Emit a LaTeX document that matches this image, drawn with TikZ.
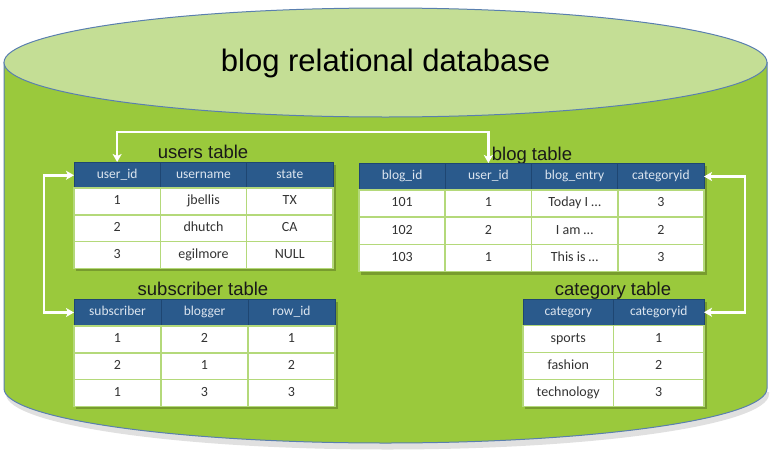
\documentclass[tikz,border=0pt]{standalone}
\usepackage{fontspec}
\setmainfont{Liberation Sans}
\newfontfamily\calfont{Carlito}
\usetikzlibrary{arrows.meta,calc,shapes.geometric}
\definecolor{topgreen}{HTML}{C4DE95}
\definecolor{bodygreen}{HTML}{9AC93C}
\definecolor{rimblue}{HTML}{5A7FAF}
\definecolor{hdrblue}{HTML}{2A5A8C}
\definecolor{hdrline}{HTML}{1E4672}
\definecolor{hdrtext}{HTML}{DCE5EF}
\definecolor{cellline}{HTML}{B4D97A}
\definecolor{celltext}{HTML}{333333}
\tikzset{
  hcell/.style={draw=hdrline, line width=0.6pt, fill=hdrblue, text=hdrtext, font=\calfont\fontsize{13.5}{15}\selectfont,
    minimum width=#1, minimum height=26.5pt, inner sep=0pt, outer sep=0pt, anchor=north west, text height=9pt, text depth=3pt},
  dcell/.style={draw=cellline, line width=1.6pt, fill=white, text=celltext, font=\calfont\fontsize{14}{16}\selectfont,
    minimum width=#1, minimum height=27pt, inner sep=0pt, outer sep=0pt, anchor=north west, text height=9.5pt, text depth=3pt},
  tlabel/.style={font=\fontsize{18.5}{20}\selectfont, text=black!90, anchor=base, inner sep=0pt},
  link/.style={draw=white, line width=2.6pt, {Stealth[length=8pt,width=9pt,inset=2pt]}-{Stealth[length=8pt,width=9pt,inset=2pt]}},
  tshadow/.style={fill=black, opacity=0.22}
}
\begin{document}
\begin{tikzpicture}[x=1pt,y=-1pt]
\useasboundingbox (0,0) rectangle (774,453);
% cylinder
\fill[black!20,opacity=0.6] (6,392) -- (6,394) arc[start angle=180,end angle=0,x radius=381.5,y radius=55.5] -- (769,392) -- cycle;
\path[fill=bodygreen, draw=rimblue, line width=1pt] (4,62.5) -- (4,388.5) arc[start angle=180, end angle=0, x radius=381.5, y radius=54.5] -- (767,62.5) -- cycle;
\node[draw=rimblue, line width=1pt, fill=topgreen, ellipse, minimum width=763pt, minimum height=109pt, inner sep=0pt] (top) at (385.5,62.5) {};
\node[font=\fontsize{31}{33}\selectfont, anchor=base, inner sep=0pt] (title) at (385.5,71) {blog relational database};

% shadows
\fill[tshadow] (76,165) rectangle (336,271);
\fill[tshadow] (361,166) rectangle (707,275);
\fill[tshadow] (76,302) rectangle (338,409);
\fill[tshadow] (525,302) rectangle (707,409);

% users table
\node[tlabel] (ulabel) at (203,158) {users table};
\foreach \t/\c in {user\_id/1, username/2, state/3}
  \node[hcell=86.3pt] (u-h\c) at ({74+86.3*(\c-1)},162) {\t};
\foreach \r/\a/\b/\d in {1/1/jbellis/TX, 2/2/dhutch/CA, 3/3/egilmore/NULL} {
  \node[dcell=86.3pt] (u-\r-1) at (74,{188+26.7*(\r-1)}) {\a};
  \node[dcell=86.3pt] (u-\r-2) at (160.3,{188+26.7*(\r-1)}) {\b};
  \node[dcell=86.3pt] (u-\r-3) at (246.6,{188+26.7*(\r-1)}) {\d};
}

% blog table
\node[tlabel] (blabel) at (532,160) {blog table};
\foreach \t/\c in {blog\_id/1, user\_id/2, blog\_entry/3, categoryid/4}
  \node[hcell=86.25pt, minimum height=27pt] (b-h\c) at ({359+86.25*(\c-1)},163) {\t};
\foreach \r/\a/\b/\d/\e in {1/101/1/Today I \dots/3, 2/102/2/I am \dots/2, 3/103/1/This is \dots/3} {
  \node[dcell=86.25pt] (b-\r-1) at (359,{190+27.3*(\r-1)}) {\a};
  \node[dcell=86.25pt] (b-\r-2) at (445.25,{190+27.3*(\r-1)}) {\b};
  \node[dcell=86.25pt] (b-\r-3) at (531.5,{190+27.3*(\r-1)}) {\d};
  \node[dcell=86.25pt] (b-\r-4) at (617.75,{190+27.3*(\r-1)}) {\e};
}

% subscriber table
\node[tlabel] (slabel) at (203,295) {subscriber table};
\foreach \t/\c in {subscriber/1, blogger/2, row\_id/3}
  \node[hcell=87pt, minimum height=27pt] (s-h\c) at ({74+87*(\c-1)},299) {\t};
\foreach \r/\a/\b/\d in {1/1/2/1, 2/2/1/2, 3/1/3/3} {
  \node[dcell=87pt] (s-\r-1) at (74,{326+26.7*(\r-1)}) {\a};
  \node[dcell=87pt] (s-\r-2) at (161,{326+26.7*(\r-1)}) {\b};
  \node[dcell=87pt] (s-\r-3) at (248,{326+26.7*(\r-1)}) {\d};
}

% category table
\node[tlabel] (clabel) at (613,295) {category table};
\foreach \t/\c in {category/1, categoryid/2}
  \node[hcell=90.5pt] (c-h\c) at ({523+90.5*(\c-1)},299) {\t};
\foreach \r/\a/\b in {1/sports/1, 2/fashion/2, 3/technology/3} {
  \node[dcell=90.5pt] (c-\r-1) at (523,{325.5+27*(\r-1)}) {\a};
  \node[dcell=90.5pt] (c-\r-2) at (613.5,{325.5+27*(\r-1)}) {\b};
}

% connectors
\coordinate (topbend) at (300,132);
\coordinate (leftbend) at (44,250);
\coordinate (rightbend) at (745,250);
\draw[link] (u-h1.north) |- (topbend) -| (b-h2.north);
\draw[link] (u-h1.west) -| (leftbend) |- (s-h1.west);
\draw[link] (b-h4.east) -| (rightbend) |- (c-h2.east);
\end{tikzpicture}
\end{document}
